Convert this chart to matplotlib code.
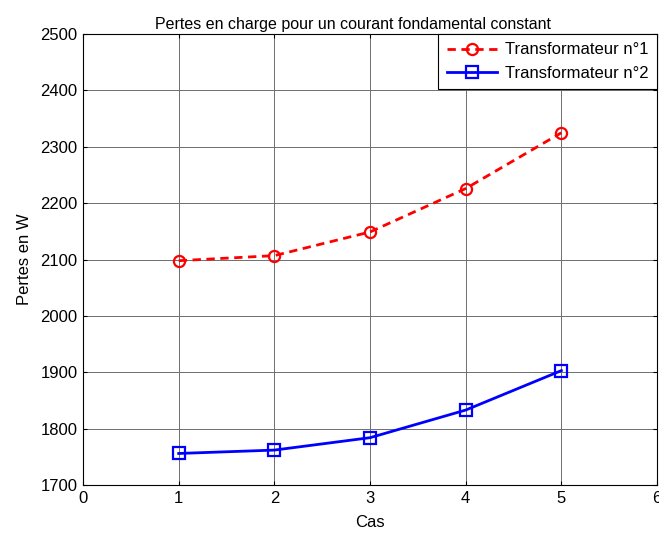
import matplotlib
matplotlib.use("Agg")
import matplotlib.pyplot as plt

plt.rcParams['font.family'] = ['Liberation Sans', 'DejaVu Sans']

cas = [1, 2, 3, 4, 5]
transfo1 = [2098, 2107, 2149, 2226, 2325]
transfo2 = [1756, 1762, 1784, 1833, 1903]
xticks = [0, 1, 2, 3, 4, 5, 6]
yticks = [1700, 1800, 1900, 2000, 2100, 2200, 2300, 2400, 2500]

FS = 12

fig = plt.figure(figsize=(6.59, 5.33), dpi=100)
ax = fig.add_axes([0.126, 0.09, 0.871, 0.846])

ax.plot(cas, transfo1, linestyle='--', color='#ff0000', linewidth=2,
        marker='o', markersize=8, markerfacecolor='none', markeredgewidth=1.6,
        label='Transformateur n°1', dashes=(3, 2))
ax.plot(cas, transfo2, linestyle='-', color='#0000ff', linewidth=2,
        marker='s', markersize=8, markerfacecolor='none', markeredgewidth=1.6,
        label='Transformateur n°2')

ax.set_xlim(0, 6)
ax.set_ylim(1700, 2500)
ax.set_xticks(xticks)
ax.set_yticks(yticks)
ax.grid(True, color='#6e6e6e', linewidth=0.7)
ax.set_axisbelow(True)
ax.tick_params(direction='in', top=True, right=True, labelsize=FS, length=3, pad=4)
for s in ax.spines.values():
    s.set_linewidth(0.8)

ax.set_title('Pertes en charge pour un courant fondamental constant', fontsize=11.5, pad=4, x=0.47)
ax.set_xlabel('Cas', fontsize=FS, labelpad=7)
ax.set_ylabel('Pertes en W', fontsize=FS, labelpad=6)

leg = ax.legend(loc='upper right', fontsize=FS, fancybox=False, framealpha=1,
                edgecolor='black', borderaxespad=0.0, handlelength=3.0,
                borderpad=0.5, labelspacing=0.5, handletextpad=0.5)
leg.get_frame().set_linewidth(0.8)

fig.savefig('out.png', dpi=100)
